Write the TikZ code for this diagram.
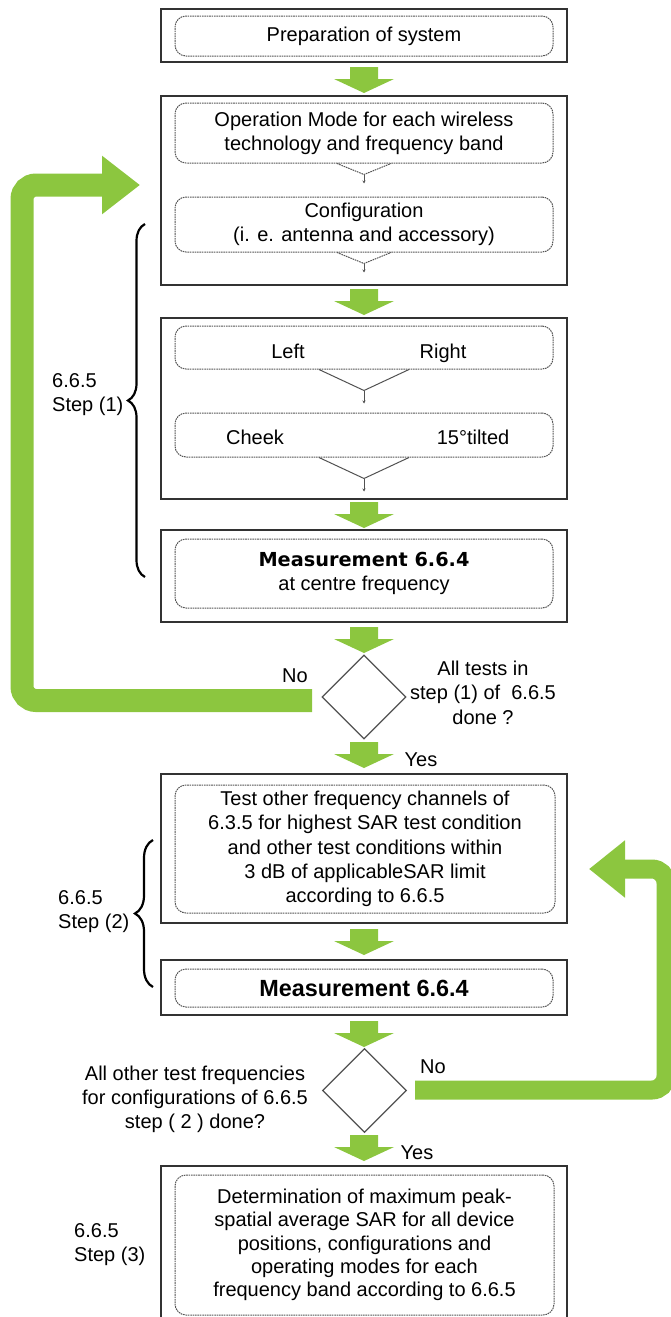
\documentclass[tikz,border=0pt]{standalone}
\usepackage{fontspec}
\setmainfont{Liberation Sans}
\newfontfamily\widebold{DejaVu Sans}
\usetikzlibrary{shapes.geometric,arrows.meta,decorations.pathreplacing}
\definecolor{flowgreen}{RGB}{140,198,63}
\definecolor{framegray}{RGB}{50,50,50}
\definecolor{dashgray}{RGB}{85,85,85}

\begin{document}
\begin{tikzpicture}
  [x=1pt,y=-1pt,
   every node/.style={font=\fontsize{20}{24}\selectfont,inner sep=0pt},
   outerbox/.style={draw=framegray,line width=1.5pt,minimum width=406pt},
   innerbox/.style={draw=dashgray,line width=1pt,dash pattern=on 1.6pt off 0.8pt,
                    rounded corners=11pt,minimum width=378pt,align=center},
   decision/.style={diamond,draw=framegray!85,line width=1.2pt,minimum width=84pt,minimum height=84pt},
   steplabel/.style={anchor=west,align=left},
   bracket/.style={draw=black,decorate,decoration={brace,amplitude=#1},line width=2.2pt},
   loopbar/.style={draw=flowgreen,rounded corners=14pt},
   chevron/.style={draw=framegray!85,line width=1pt},
   greenarrow/.pic={\fill[flowgreen] (-14,0) -- (14,0) -- (14,12) -- (30,12) -- (0,26)
                                      -- (-30,12) -- (-14,12) -- cycle;}]
  \useasboundingbox (0,0) rectangle (671,1317);
  \clip (0,0) rectangle (671,1317);

  % outer frames
  \node[outerbox,minimum height=53pt]  (frame1) at (364,35.5) {};
  \node[outerbox,minimum height=189pt] (frame2) at (364,190.5) {};
  \node[outerbox,minimum height=181pt] (frame3) at (364,408.5) {};
  \node[outerbox,minimum height=92pt]  (frame4) at (364,576) {};
  \node[outerbox,minimum height=149pt] (frame5) at (364,848.5) {};
  \node[outerbox,minimum height=55pt]  (frame6) at (364,987.5) {};
  \node[outerbox,minimum height=154pt] (frame7) at (364,1243) {};

  % dashed steps
  \node[innerbox,minimum height=40pt] (prep) at (364,36) {Preparation of system};
  \node[innerbox,minimum height=60pt] (opmode) at (364,133)
    {Operation Mode for each wireless\\technology and frequency band};
  \node[innerbox,minimum height=55pt] (config) at (364,224.5)
    {Configuration\\(i. e. antenna and accessory)};
  \node[innerbox,minimum height=43pt] (side) at (364,347.5) {};
  \node[anchor=base] (left) at (288,358) {Left};
  \node[anchor=base] (right) at (443,358) {Right};
  \node[innerbox,minimum height=44pt] (pos) at (364,435) {};
  \node[anchor=base] (cheek) at (255,444) {Cheek};
  \node[anchor=base] (tilt) at (473,444) {15°tilted};
  \node[innerbox,minimum height=69pt] (meas1) at (364,573.5)
    {{\widebold\bfseries\fontsize{19.3}{24}\selectfont Measurement 6.6.4}\\at centre frequency};
  \node[innerbox,minimum width=380pt,minimum height=128pt,font=\fontsize{20}{24.2}\selectfont]
    (other) at (365,849)
    {Test other frequency channels of\\6.3.5 for highest SAR test condition\\and other test conditions within\\3 dB of applicableSAR limit\\according to 6.6.5};
  \node[innerbox,minimum height=38pt] (meas2) at (364,988)
    {\bfseries\fontsize{23.4}{26}\selectfont Measurement 6.6.4};
  \node[innerbox,minimum width=379pt,minimum height=140pt,font=\fontsize{20}{23.3}\selectfont]
    (maxsar) at (364.5,1245)
    {Determination of maximum peak-\\spatial average SAR for all device\\positions, configurations and\\operating modes for each\\frequency band according to 6.6.5};

  % decisions
  \node[decision] (dec1) at (364,697) {};
  \node[decision] (dec2) at (364.5,1090.5) {};
  \node (no1) at (295,676) {No};
  \node[align=center,font=\fontsize{20}{24.5}\selectfont] (ask1) at (483,692.5)
    {All tests in\\step (1) of~ 6.6.5\\done ?};
  \node (yes1) at (421,760) {Yes};
  \node[align=center] (ask2) at (195,1099)
    {All other test frequencies\\for configurations of 6.6.5\\step ( 2 ) done?};
  \node (no2) at (433,1067) {No};
  \node (yes2) at (417,1153) {Yes};

  % clause labels
  \node[steplabel] (clause1) at (52,395) {6.6.5\\Step (1)};
  \node[steplabel] (clause2) at (58,911.5) {6.6.5\\Step (2)};
  \node[steplabel] (clause3) at (74,1244.5) {6.6.5\\Step (3)};
  \draw[bracket=17pt] (145,577) -- (145,224);
  \draw[bracket=18pt] (153,987) -- (153,840);

  % green flow arrows
  \foreach \y in {67,289,502,627,742,929,1021,1135}
    \pic at (364,\y) {greenarrow};

  \coordinate (backL) at (312,700.5);
  \coordinate (tipL) at (140,185);
  \draw[loopbar,line width=23pt,-{Triangle[length=38pt,width=56pt]}] (backL) -| (22,185) -- (tipL);
  \coordinate (backR) at (415,1090);
  \coordinate (tipR) at (589,869);
  \draw[loopbar,line width=19pt,-{Triangle[length=36pt,width=55pt]}] (backR) -| (666,869) -- (tipR);

  % small joins inside the frames
  \foreach \n in {opmode,config} {
    \draw[chevron,draw=dashgray,dash pattern=on 1.6pt off 0.8pt]
      ([xshift=-27pt]\n.south) -- ++(27,11) coordinate (v) -- ++(27,-11);
    \draw[chevron,draw=dashgray,-{Stealth[length=3pt,width=3pt]}] (v) -- ++(0,9);
  }
  \foreach \n in {side,pos} {
    \draw[chevron] ([xshift=-45pt]\n.south) -- ++(45,21) coordinate (v) -- ++(45,-21);
    \draw[chevron,-{Stealth[length=3pt,width=3pt]}] (v) -- ++(0,13);
  }
\end{tikzpicture}
\end{document}
